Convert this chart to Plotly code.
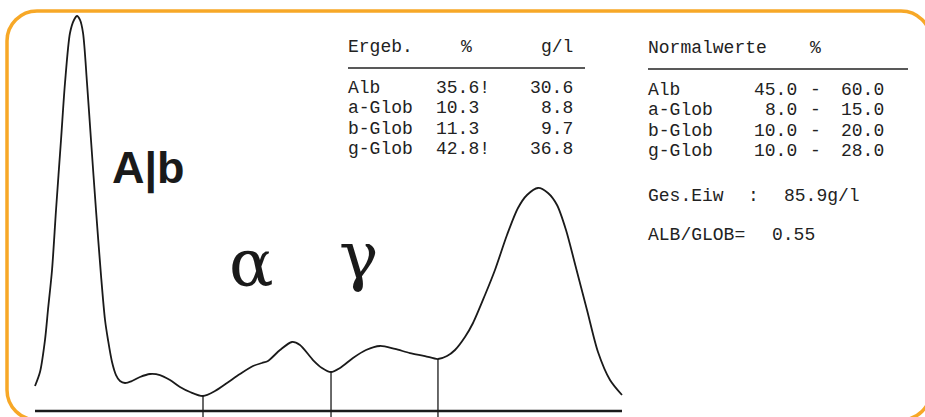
import plotly.graph_objects as go

W, H = 925, 417

# ---- densitometer trace: migration position (0-100) vs. relative absorbance (0-100)
trace_x = [0, 0.85, 1.70, 2.21, 2.90, 3.58, 4.43, 5.11, 5.96, 6.64, 7.16, 7.67, 8.18,
           8.86, 9.54, 10.39, 11.24, 11.93, 12.44, 13.12, 13.80, 14.48, 15.33, 16.52,
           17.89, 19.59, 21.29, 23.00, 24.70, 26.41, 28.62, 30.66, 32.71, 34.92, 37.14,
           38.67, 39.69, 41.74, 43.78, 45.14, 47.36, 48.89, 50.43, 51.96, 54.17, 56.39,
           58.77, 61.33, 63.88, 66.44, 68.65, 70.19, 71.55, 73.25, 74.62, 76.66, 78.36,
           80.41, 82.28, 83.82, 85.69, 87.39, 88.93, 90.46, 92.04, 94.04, 95.91, 97.96, 100]
trace_y = [6.33, 9.87, 17.97, 25.57, 35.70, 50.89, 68.61, 83.04, 95.70, 98.99, 100, 98.99,
           95.70, 83.04, 68.61, 50.89, 34.43, 23.04, 17.97, 12.41, 9.11, 7.59, 7.09, 7.59,
           8.61, 9.37, 9.11, 7.85, 6.08, 4.81, 3.80, 5.06, 7.09, 9.37, 11.39, 12.15, 12.66,
           15.44, 17.47, 16.71, 12.91, 10.89, 9.87, 10.89, 13.42, 15.44, 16.46, 15.70, 14.68,
           13.92, 13.16, 13.92, 15.44, 18.73, 22.28, 29.37, 35.70, 44.56, 51.39, 54.68, 56.46,
           55.19, 52.15, 45.82, 36.96, 25.57, 14.94, 7.85, 4.05]

# fraction boundaries (position, trace height at that position)
boundary_x = [28.62, 50.43, 68.65]
boundary_y = [3.80, 9.87, 13.16]

# ---- result tables
fractions = ["Alb", "a-Glob", "b-Glob", "g-Glob"]
result_pct = ["35.6!", "10.3", "11.3", "42.8!"]
result_gl = ["30.6", "8.8", "9.7", "36.8"]
normal_lo = ["45.0", "8.0", "10.0", "10.0"]
normal_hi = ["60.0", "15.0", "20.0", "28.0"]
total_protein = "85.9g/l"
alb_glob_ratio = "0.55"

peak_labels = ["A|b", "α", "γ"]

X_RANGE = [-5.963, 151.62]
Y_RANGE = [-1.519, 104.05]


def px(x):
    return x / W


def py(y):
    return 1 - y / H


NB = "\u00a0"

fig = go.Figure()

# baseline
fig.add_trace(go.Scatter(x=[trace_x[0], trace_x[-1]], y=[0, 0], mode="lines",
                         line=dict(color="#1a1a1a", width=2.6), hoverinfo="skip"))
# boundaries
for bx, by in zip(boundary_x, boundary_y):
    fig.add_trace(go.Scatter(x=[bx, bx], y=[by, Y_RANGE[0] - 1], mode="lines",
                             line=dict(color="#1a1a1a", width=1.3), hoverinfo="skip"))
# trace
fig.add_trace(go.Scatter(x=trace_x, y=trace_y, mode="lines",
                         line=dict(color="#1a1a1a", width=1.8, shape="spline", smoothing=0.8),
                         hoverinfo="skip"))

ann = []
mono = dict(family="Liberation Mono, Courier New, monospace", size=18, color="#222222")


def text(x, y, s, font, xanchor="left"):
    ann.append(dict(x=px(x), y=py(y), xref="paper", yref="paper", text=s.replace(" ", NB),
                    showarrow=False, xanchor=xanchor, yanchor="middle", font=font,
                    borderpad=0, borderwidth=0))


def cell(x0, w, y, col, s, align="left"):
    """place token s on the printer's fixed-pitch grid; col is its first column
    (align='left'), its last column (align='right') or its single column (centre)"""
    if align == "left":
        text(x0 + col * w, y, s, mono, "left")
    elif align == "right":
        text(x0 + (col + 1) * w, y, s, mono, "right")
    else:
        text(x0 + (col + 0.5) * w, y, s, mono, "center")


# left table (grid origin 348 px, pitch 12.5 px)
LX, LW = 348, 12.5
cell(LX, LW, 47, 0, "Ergeb.")
cell(LX, LW, 47, 9, "%", "center")
cell(LX, LW, 47, 17, "g/l", "right")
for i, (f, p, g) in enumerate(zip(fractions, result_pct, result_gl)):
    y = 87.5 + 20.5 * i
    cell(LX, LW, y, 0, f)
    cell(LX, LW, y, 7, p)
    cell(LX, LW, y, 17, g, "right")

# right table (grid origin 648 px, pitch 12.4 px)
RX, RW = 648, 12.4
cell(RX, RW, 48, 0, "Normalwerte")
cell(RX, RW, 48, 13, "%", "center")
for i, (f, lo, hi) in enumerate(zip(fractions, normal_lo, normal_hi)):
    y = 89.5 + 20.5 * i
    cell(RX, RW, y, 0, f)
    cell(RX, RW, y, 11, lo, "right")
    cell(RX, RW, y, 13, "-", "center")
    cell(RX, RW, y, 18, hi, "right")
cell(RX, RW, 196, 0, "Ges.Eiw")
cell(RX, RW, 196, 8, ":", "center")
cell(RX, RW, 196, 11, total_protein)
cell(RX, RW, 235, 0, "ALB/GLOB=")
cell(RX, RW, 235, 10, alb_glob_ratio)

# peak labels
text(148, 168, peak_labels[0],
     dict(family="Liberation Sans Narrow, Liberation Sans, sans-serif", size=45,
          color="#1a1a1a", weight="bold"), xanchor="center")
text(251, 263, peak_labels[1], dict(family="DejaVu Serif, serif", size=66, color="#1a1a1a"),
     xanchor="center")
text(358, 256, peak_labels[2], dict(family="DejaVu Serif, serif", size=66, color="#1a1a1a"),
     xanchor="center")

shapes = [
    dict(type="line", xref="paper", yref="paper", x0=px(348), x1=px(585), y0=py(68), y1=py(68),
         line=dict(color="#222222", width=1.6)),
    dict(type="line", xref="paper", yref="paper", x0=px(648), x1=px(908), y0=py(69), y1=py(69),
         line=dict(color="#222222", width=1.6)),
]

# rounded orange frame (right and bottom edges run just past the picture)
L, T, R, B, r = 7, 11, 931, 420, 30
k = 0.552 * r
path = (f"M {px(L)},{py(B - r)} L {px(L)},{py(T + r)} "
        f"C {px(L)},{py(T + r - k)} {px(L + r - k)},{py(T)} {px(L + r)},{py(T)} "
        f"L {px(R - r)},{py(T)} "
        f"C {px(R - r + k)},{py(T)} {px(R)},{py(T + r - k)} {px(R)},{py(T + r)} "
        f"L {px(R)},{py(B - r)} "
        f"C {px(R)},{py(B - r + k)} {px(R - r + k)},{py(B)} {px(R - r)},{py(B)} "
        f"L {px(L + r)},{py(B)} "
        f"C {px(L + r - k)},{py(B)} {px(L)},{py(B - r + k)} {px(L)},{py(B - r)} Z")
shapes.append(dict(type="path", xref="paper", yref="paper", path=path,
                   line=dict(color="#F7A827", width=3.5)))

fig.update_layout(
    width=W, height=H, margin=dict(l=0, r=0, t=0, b=0),
    paper_bgcolor="white", plot_bgcolor="white", showlegend=False,
    xaxis=dict(range=X_RANGE, visible=False, fixedrange=True),
    yaxis=dict(range=Y_RANGE, visible=False, fixedrange=True),
    annotations=ann, shapes=shapes,
)

fig.write_html("out.html", config={"displayModeBar": False},
               post_script="document.body.style.margin='0';document.body.style.overflow='hidden';")
